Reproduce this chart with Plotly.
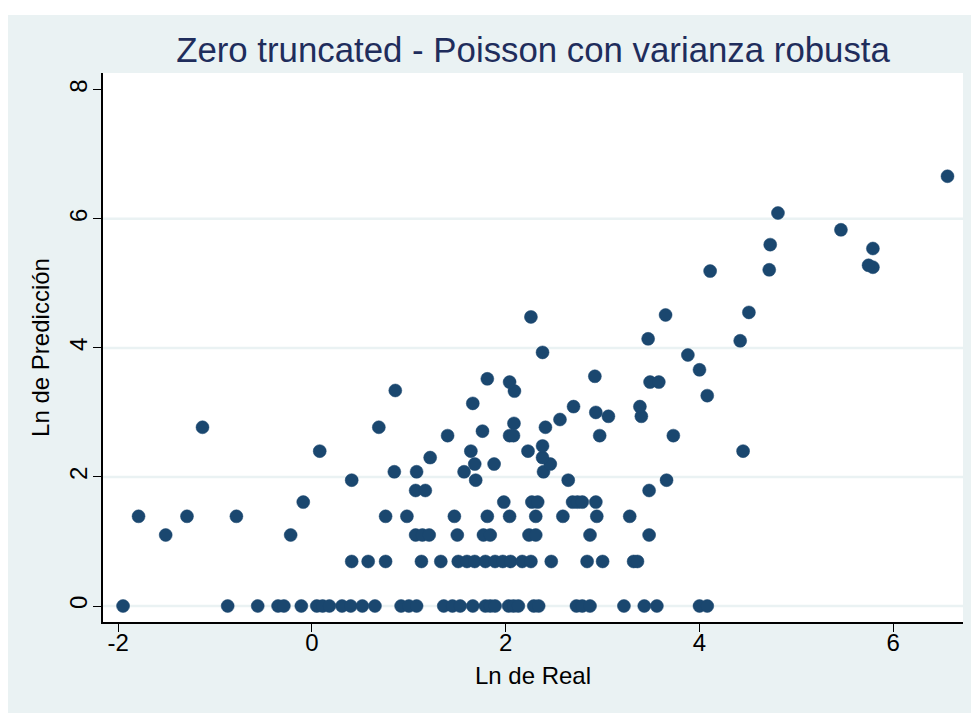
import plotly.graph_objects as go

# Ln de Real (x) and Ln de Predicción (y)
ln_real = [
    # y = 0 row
    -1.95, -0.87, -0.56, -0.35, -0.29, -0.11, 0.05, 0.11, 0.18, 0.31, 0.40, 0.52, 0.65,
    0.92, 1.00, 1.08, 1.36, 1.45, 1.53, 1.66, 1.79, 1.84, 1.89, 2.03, 2.08, 2.13,
    2.29, 2.34, 2.73, 2.79, 2.87, 3.22, 3.43, 3.56, 4.00, 4.08,
    # y = 0.69 row
    0.41, 0.58, 0.76, 1.13, 1.33, 1.51, 1.60, 1.68, 1.79, 1.89, 1.97, 2.05, 2.17, 2.26,
    2.47, 2.84, 3.00, 3.32, 3.36,
    # y = 1.10 row
    -1.51, -0.22, 1.07, 1.14, 1.21, 1.50, 1.77, 1.84, 2.24, 2.31, 2.87, 3.48,
    # y = 1.39 row
    -1.79, -1.29, -0.78, 0.76, 0.98, 1.47, 1.81, 2.04, 2.31, 2.59, 2.94, 3.28,
    # y = 1.61 row
    -0.09, 1.98, 2.27, 2.33, 2.69, 2.74, 2.79, 2.93,
    # y = 1.79 row
    1.07, 1.17, 3.48,
    # y = 1.95 row
    0.41, 1.69, 2.645, 3.66,
    # y = 2.08 row
    0.85, 1.08, 1.57, 2.39,
    # y = 2.20 row
    1.68, 1.88, 2.46,
    # y = 2.30 row
    1.22, 2.38,
    # y = 2.40 row
    0.08, 1.64, 2.23, 4.45,
    # higher values
    2.38, 1.40, 2.04, 2.08, 2.97, 3.73, 1.76, -1.13, 0.69, 2.41, 2.085, 2.56,
    3.06, 3.40, 2.93, 2.70, 3.385, 1.66, 4.08, 2.09, 0.86, 2.04, 3.49, 3.58,
    1.81, 2.92, 4.00, 3.88, 2.38, 4.42, 3.47, 2.26, 3.65, 4.51, 4.11, 4.72,
    5.79, 5.745, 5.79, 4.73, 5.46, 4.81, 6.56,
]

ln_pred = (
    [0.0] * 36
    + [0.69] * 19
    + [1.10] * 12
    + [1.39] * 12
    + [1.61] * 8
    + [1.79] * 3
    + [1.95] * 4
    + [2.08] * 4
    + [2.20] * 3
    + [2.30] * 2
    + [2.40] * 4
    + [2.48, 2.64, 2.64, 2.64, 2.64, 2.64, 2.71, 2.77, 2.77, 2.77, 2.83, 2.89,
       2.94, 2.94, 3.00, 3.09, 3.09, 3.14, 3.26, 3.33, 3.34, 3.47, 3.47, 3.47,
       3.52, 3.56, 3.66, 3.89, 3.93, 4.11, 4.14, 4.48, 4.51, 4.55, 5.19, 5.21,
       5.25, 5.28, 5.54, 5.60, 5.83, 6.09, 6.66]
)

x_ticks = [-2, 0, 2, 4, 6]
y_ticks = [0, 2, 4, 6, 8]
y_grid = [0, 2, 4, 6]

title_text = "Zero truncated - Poisson con varianza robusta"
x_title = "Ln de Real"
y_title = "Ln de Predicción"

BG = "#EAF2F3"
NAVY = "#1a476f"
FONT = "Liberation Sans, Arial, Helvetica, sans-serif"

W, H = 971, 705
L, R, T, B = 95, 16, 65, 91
plot_h = H - T - B

fig = go.Figure()
fig.add_trace(go.Scatter(
    x=ln_real, y=ln_pred, mode="markers",
    marker=dict(size=13, color=NAVY, line=dict(width=0.5, color=NAVY)),
    showlegend=False, hoverinfo="x+y",
))

shapes = []
# light horizontal grid lines
for g in y_grid:
    shapes.append(dict(type="line", xref="paper", yref="y", x0=0, x1=1, y0=g, y1=g,
                       line=dict(color=BG, width=2.5), layer="below"))
# white strip at the very top of the image
shapes.append(dict(type="rect", xref="paper", yref="paper", x0=-0.2, x1=1.2,
                   y0=1.0 + (T - 7) / plot_h, y1=1.0 + (T + 2) / plot_h,
                   fillcolor="white", line=dict(width=0), layer="below"))

fig.update_layout(
    width=W, height=H,
    margin=dict(l=L, r=R, t=T, b=B, autoexpand=False),
    paper_bgcolor=BG, plot_bgcolor="white",
    font=dict(family=FONT, size=24, color="black"),
    title=dict(text=title_text, x=(533 - 8) / W, xanchor="center",
               y=1 - (50 - 8) / H, yanchor="middle",
               font=dict(family=FONT, size=34.8, color="#1f2d5c")),
    shapes=shapes,
)

fig.update_xaxes(
    range=[-2.157, 6.72], tickvals=x_ticks, ticktext=[str(v) for v in x_ticks],
    showgrid=False, zeroline=False, automargin=False,
    showline=True, linecolor="black", linewidth=1.5, mirror=False,
    ticks="outside", ticklen=8, tickwidth=1.3, tickcolor="black",
    tickfont=dict(size=24), ticklabelstandoff=-10,
    title=dict(text=x_title, font=dict(size=24), standoff=13),
)
fig.update_yaxes(
    range=[-0.248, 8.26], tickvals=y_ticks, ticktext=[str(v) for v in y_ticks],
    showgrid=False, zeroline=False, automargin=False,
    showline=True, linecolor="black", linewidth=1.5, mirror=False,
    ticks="outside", ticklen=8, tickwidth=1.3, tickcolor="black",
    tickangle=-90, tickfont=dict(size=24), ticklabelstandoff=-3,
    title=dict(text=y_title, font=dict(size=24), standoff=8),
)

fig.write_html("out.html")
